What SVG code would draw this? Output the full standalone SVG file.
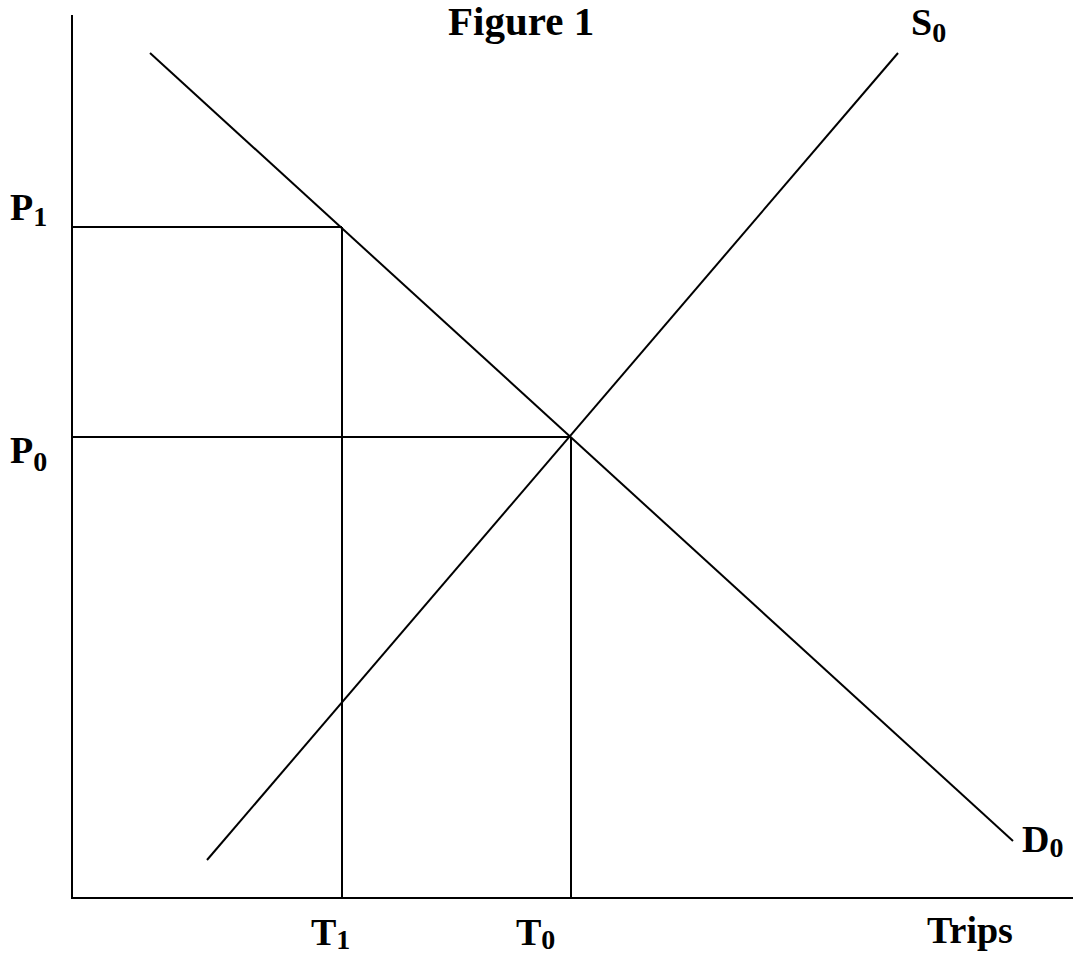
<svg xmlns="http://www.w3.org/2000/svg" width="1073" height="959" viewBox="0 0 1073 959">
<style>
.ln{stroke:#000;stroke-width:2;fill:none}
.t{font-family:"Liberation Serif","Times New Roman",serif;font-weight:bold;font-size:38px;fill:#000}
.s{font-size:28px}
</style>
<rect width="1073" height="959" fill="#fff"/>
<g id="axes">
<line class="ln" x1="72" y1="15" x2="72" y2="898"/>
<line class="ln" x1="71" y1="898" x2="1073" y2="898"/>
</g>
<g id="connectors">
<line class="ln" x1="150" y1="53" x2="1013" y2="841"/>
<line class="ln" x1="898" y1="53" x2="207" y2="860"/>
<line class="ln" x1="72" y1="227" x2="342" y2="227"/>
<line class="ln" x1="342" y1="227" x2="342" y2="898"/>
<line class="ln" x1="72" y1="437" x2="571" y2="437"/>
<line class="ln" x1="571" y1="437" x2="571" y2="898"/>
</g>
<g id="title"><text class="t" x="448" y="35" style="font-size:41px">Figure 1</text></g>
<g id="S0"><text class="t" x="911" y="35">S<tspan class="s" dy="7">0</tspan></text></g>
<g id="D0"><text class="t" x="1022" y="852">D<tspan class="s" dy="5">0</tspan></text></g>
<g id="P1"><text class="t" x="10" y="220">P<tspan class="s" dy="6">1</tspan></text></g>
<g id="P0"><text class="t" x="10" y="463">P<tspan class="s" dy="8">0</tspan></text></g>
<g id="T1"><text class="t" x="311" y="945">T<tspan class="s" dy="4">1</tspan></text></g>
<g id="T0"><text class="t" x="516" y="945">T<tspan class="s" dy="4">0</tspan></text></g>
<g id="trips"><text class="t" x="927" y="943">Trips</text></g>
</svg>
